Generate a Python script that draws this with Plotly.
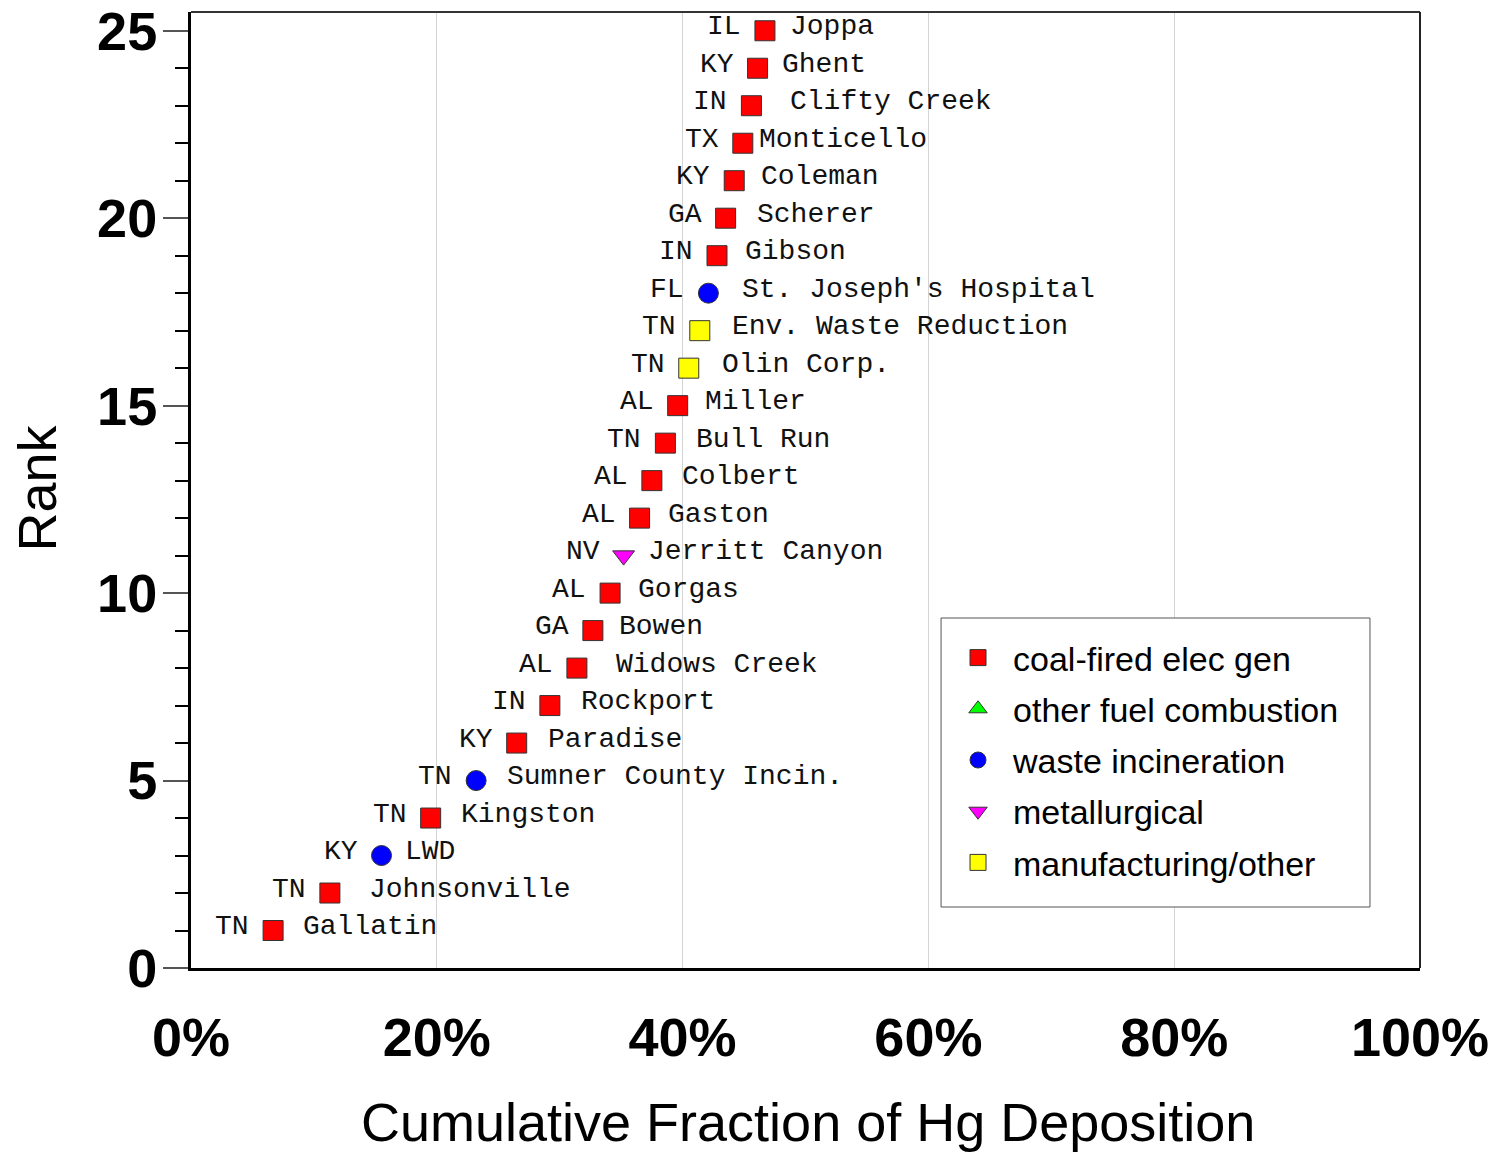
import plotly.graph_objects as go

# ---- data ----
ranks = list(range(1, 26))
fractions = [0.0668, 0.113, 0.155, 0.195, 0.232, 0.265, 0.292, 0.314, 0.327, 0.341,
             0.352, 0.365, 0.375, 0.386, 0.396, 0.405, 0.414, 0.421, 0.428, 0.435,
             0.442, 0.449, 0.456, 0.461, 0.467]
states = ["TN", "TN", "KY", "TN", "TN", "KY", "IN", "AL", "GA", "AL",
          "NV", "AL", "AL", "TN", "AL", "TN", "TN", "FL", "IN", "GA",
          "KY", "TX", "IN", "KY", "IL"]
names = ["Gallatin", "Johnsonville", "LWD", "Kingston", "Sumner County Incin.",
         "Paradise", "Rockport", "Widows Creek", "Bowen", "Gorgas",
         "Jerritt Canyon", "Gaston", "Colbert", "Bull Run", "Miller",
         "Olin Corp.", "Env. Waste Reduction", "St. Joseph's Hospital", "Gibson", "Scherer",
         "Coleman", "Monticello", "Clifty Creek", "Ghent", "Joppa"]
categories = ["coal", "coal", "waste", "coal", "waste", "coal", "coal", "coal", "coal", "coal",
              "metal", "coal", "coal", "coal", "coal", "manuf", "manuf", "waste", "coal", "coal",
              "coal", "coal", "coal", "coal", "coal"]
category_labels = {
    "coal": "coal-fired elec gen",
    "other": "other fuel combustion",
    "waste": "waste incineration",
    "metal": "metallurgical",
    "manuf": "manufacturing/other",
}
x_ticks = [0, 0.2, 0.4, 0.6, 0.8, 1.0]
x_ticktext = ["0%", "20%", "40%", "60%", "80%", "100%"]
y_ticks = [0, 5, 10, 15, 20, 25]
x_title = "Cumulative Fraction of Hg Deposition"
y_title = "Rank"

# ---- styles ----
cat_style = {
    "coal": dict(symbol="square", color="#ff0000", size=20),
    "other": dict(symbol="triangle-up", color="#00ff00", size=18),
    "waste": dict(symbol="circle", color="#0000ff", size=20),
    "metal": dict(symbol="triangle-down", color="#ff00ff", size=19),
    "manuf": dict(symbol="square", color="#ffff00", size=20),
}
# horizontal offset (px) of each name label from its marker
name_gap = [30, 39, 23, 30, 31, 31, 31, 39, 26, 28,
            24, 28, 30, 31, 27, 33, 32, 34, 28, 31,
            27, 16, 39, 24, 25]

fig = go.Figure()
for i, cat in enumerate(["coal", "other", "waste", "metal", "manuf"]):
    xs = [f for f, c in zip(fractions, categories) if c == cat]
    ys = [r for r, c in zip(ranks, categories) if c == cat]
    if not xs:
        xs, ys = [None], [None]
    st = cat_style[cat]
    fig.add_trace(go.Scatter(
        x=xs, y=ys, mode="markers", name=category_labels[cat],
        legendgroup=cat,
        marker=dict(symbol=st["symbol"], color=st["color"], size=st["size"],
                    line=dict(color="#333333", width=1)),
        cliponaxis=False,
    ))

lab_font = dict(family="Liberation Mono, Courier New, monospace", size=28, color="#111111")
for f, r, s, n, g in zip(fractions, ranks, states, names, name_gap):
    fig.add_annotation(x=f, y=r, text=s, showarrow=False, xanchor="right",
                       xshift=-22, yshift=4, font=lab_font)
    fig.add_annotation(x=f, y=r, text=n, showarrow=False, xanchor="left",
                       xshift=g - 2, yshift=4, font=lab_font)

# axis titles
fig.add_annotation(xref="paper", yref="paper", x=0.502, y=-0.161, text=x_title,
                   showarrow=False, xanchor="center", yanchor="middle",
                   font=dict(size=54, family="Arial, Liberation Sans, sans-serif", color="black"))
fig.add_annotation(xref="paper", yref="paper", x=-0.125, y=0.502, text=y_title,
                   showarrow=False, xanchor="center", yanchor="middle", textangle=-90,
                   font=dict(size=54, family="Arial, Liberation Sans, sans-serif", color="black"))

# frame top/right
fig.add_shape(type="line", xref="paper", yref="paper", x0=0, x1=1, y0=1, y1=1,
              line=dict(color="#333333", width=2))
fig.add_shape(type="line", xref="paper", yref="paper", x0=1, x1=1, y0=0, y1=1,
              line=dict(color="#222222", width=2))
# legend box
fig.add_shape(type="rect", xref="paper", yref="paper", x0=0.6103, x1=0.9593,
              y0=0.0638, y1=0.3661, layer="above",
              fillcolor="white", line=dict(color="#555555", width=1))

fig.update_layout(
    width=1501, height=1153,
    margin=dict(l=191, r=81, t=12, b=185),
    paper_bgcolor="white", plot_bgcolor="white",
    font=dict(family="Arial, Liberation Sans, sans-serif", color="black"),
    showlegend=True,
    legend=dict(x=0.6119, y=0.3546, xanchor="left", yanchor="top",
                bgcolor="rgba(0,0,0,0)", borderwidth=0,
                font=dict(size=34, family="Arial, Liberation Sans, sans-serif"),
                tracegroupgap=4, itemsizing="trace", itemwidth=60),
    xaxis=dict(range=[0, 1], tickvals=x_ticks, ticktext=x_ticktext,
               showgrid=True, gridcolor="#d4d4d4", gridwidth=1,
               showline=True, linecolor="black", linewidth=3,
               ticks="", ticklabelstandoff=20, automargin=False,
               ticklabeloverflow="allow",
               tickfont=dict(size=54, family="Arial, Liberation Sans, sans-serif", weight="bold"),
               zeroline=False),
    yaxis=dict(range=[0, 25.5], tickvals=y_ticks,
               showgrid=False, zeroline=False, automargin=False,
               showline=True, linecolor="black", linewidth=3,
               ticks="outside", ticklen=25, tickcolor="#555555", tickwidth=2,
               minor=dict(dtick=1, ticks="outside", ticklen=13, tickcolor="black", tickwidth=1.5),
               ticklabelstandoff=-5, ticklabeloverflow="allow",
               tickfont=dict(size=54, family="Arial, Liberation Sans, sans-serif", weight="bold")),
)

fig.write_html("out.html", config={"displayModeBar": False},
               post_script="document.body.style.margin='0';document.body.style.overflow='hidden';")
